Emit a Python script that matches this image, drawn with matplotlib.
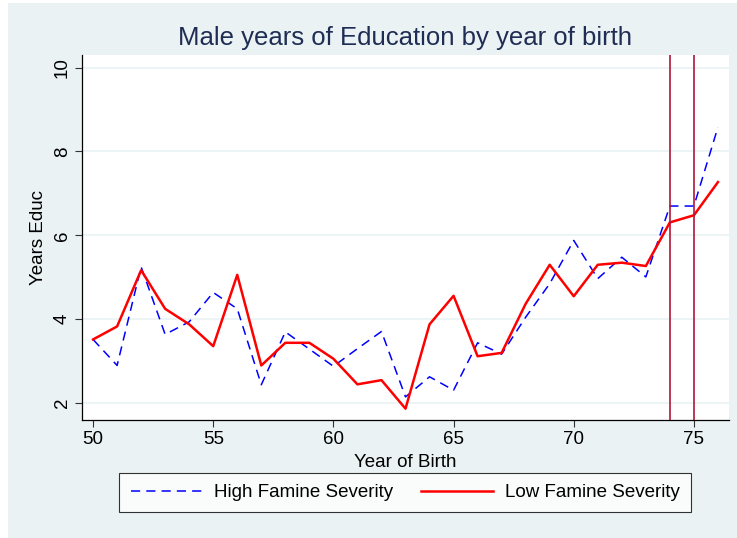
import matplotlib
matplotlib.use("Agg")
import matplotlib.pyplot as plt
from matplotlib.patches import Rectangle

plt.rcParams["font.family"] = ["Liberation Sans", "DejaVu Sans"]

# ---------------------------
# Data
# ---------------------------
years = list(range(50, 77))

high_famine = [3.52, 2.90, 5.25, 3.64, 3.94, 4.64, 4.25, 2.44, 3.70, 3.29,
               2.88, 3.30, 3.71, 2.15, 2.63, 2.31, 3.44, 3.17, 4.05, 4.85,
               5.88, 4.97, 5.48, 5.01, 6.70, 6.70, 8.58]

low_famine = [3.52, 3.83, 5.17, 4.25, 3.88, 3.36, 5.06, 2.90, 3.44, 3.44,
              3.06, 2.45, 2.55, 1.87, 3.88, 4.56, 3.12, 3.20, 4.37, 5.30,
              4.55, 5.30, 5.35, 5.27, 6.31, 6.48, 7.27]

marker_years = [74, 75]

x_ticks = [50, 55, 60, 65, 70, 75]
y_ticks = [2, 4, 6, 8, 10]

bg = "#eaf2f3"

fig = plt.figure(figsize=(7.37, 5.38), dpi=100, facecolor="white")
fig.patches.append(Rectangle((8 / 737, 0), 1, 1 - 3 / 538, transform=fig.transFigure,
                             facecolor=bg, edgecolor="none", zorder=-10))

ax = fig.add_axes([82 / 737, 1 - 420 / 538, (729 - 82) / 737, (420 - 55) / 538])
ax.set_facecolor("white")

for yv in y_ticks:
    ax.axhline(yv, color=bg, lw=1.2, zorder=0)

ax.plot(years, high_famine, color="#0000ff", lw=1.1, dashes=(6, 4),
        label="High Famine Severity", zorder=3)
ax.plot(years, low_famine, color="#ff0000", lw=1.8,
        label="Low Famine Severity", zorder=4)

for xv in marker_years:
    ax.axvline(xv, color="#b0173a", lw=1.2, zorder=5)

ax.set_xlim(49.54, 76.46)
ax.set_ylim(1.6, 10.3)
ax.set_xticks(x_ticks)
ax.set_yticks(y_ticks)
ax.tick_params(axis="both", direction="out", length=5, width=0.8, color="#333333",
               labelsize=13.5, pad=3)
for lab in ax.get_yticklabels():
    lab.set_rotation(90)
    lab.set_va("center")

for side in ["top", "right"]:
    ax.spines[side].set_visible(False)
for side in ["left", "bottom"]:
    ax.spines[side].set_color("black")
    ax.spines[side].set_linewidth(0.9)

ax.set_xlabel("Year of Birth", fontsize=13.5, labelpad=4)
ax.set_ylabel("Years Educ", fontsize=13.5, labelpad=5)
ax.set_title("Male years of Education by year of birth", fontsize=18.5,
             color="#1f2d54", pad=7)

leg = fig.legend(loc="center", bbox_to_anchor=(405 / 737, 1 - 492.5 / 538), ncol=2,
                 fontsize=13.5, frameon=True, fancybox=False, handlelength=3.85,
                 columnspacing=1.5, handletextpad=0.6, borderpad=0.6,
                 borderaxespad=0)
leg.get_frame().set_edgecolor("black")
leg.get_frame().set_linewidth(0.8)
leg.get_frame().set_facecolor("white")

fig.savefig("out.png", dpi=100, facecolor=fig.get_facecolor())
plt.close(fig)
